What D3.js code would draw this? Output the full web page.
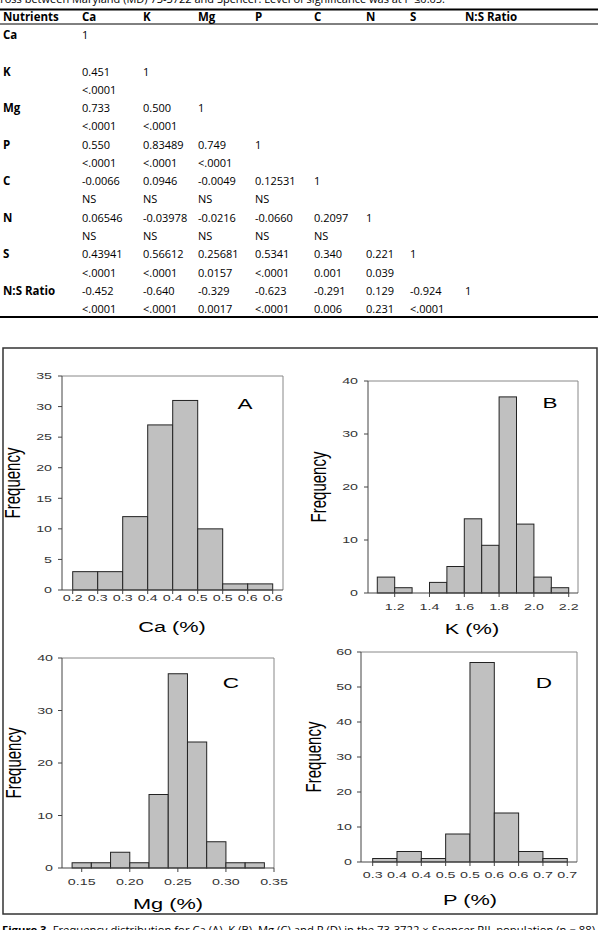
<!DOCTYPE html>
<html>
<head>
<meta charset="utf-8">
<script src="https://cdn.jsdelivr.net/npm/d3@7"></script>
<style>
  body { margin: 0; background: #fff; }
  svg { display: block; }
</style>
</head>
<body>
<svg id="page" width="600" height="930"></svg>
<script>
// TABLE DATA
const tableCols = ["Nutrients", "Ca", "K", "Mg", "P", "C", "N", "S", "N:S Ratio"];
const tableRows = ["Ca", "K", "Mg", "P", "C", "N", "S", "N:S Ratio"];
const corrValues = [
    ["1"],
    ["0.451", "1"],
    ["0.733", "0.500", "1"],
    ["0.550", "0.83489", "0.749", "1"],
    ["-0.0066", "0.0946", "-0.0049", "0.12531", "1"],
    ["0.06546", "-0.03978", "-0.0216", "-0.0660", "0.2097", "1"],
    ["0.43941", "0.56612", "0.25681", "0.5341", "0.340", "0.221", "1"],
    ["-0.452", "-0.640", "-0.329", "-0.623", "-0.291", "0.129", "-0.924", "1"]
];
const pValues = [
    [],
    ["<.0001"],
    ["<.0001", "<.0001"],
    ["<.0001", "<.0001", "<.0001"],
    ["NS", "NS", "NS", "NS"],
    ["NS", "NS", "NS", "NS", "NS"],
    ["<.0001", "<.0001", "0.0157", "<.0001", "0.001", "0.039"],
    ["<.0001", "<.0001", "0.0017", "<.0001", "0.006", "0.231", "<.0001"]
];

// HISTOGRAM DATA
const caEdges = [0.20, 0.25, 0.30, 0.35, 0.40, 0.45, 0.50, 0.55, 0.60];
const caCounts = [3, 3, 12, 27, 31, 10, 1, 1];
const caTicks = ["0.2", "0.3", "0.3", "0.4", "0.4", "0.5", "0.5", "0.6", "0.6"];

const kEdges = [1.1, 1.2, 1.3, 1.4, 1.5, 1.6, 1.7, 1.8, 1.9, 2.0, 2.1, 2.2];
const kCounts = [3, 1, 0, 2, 5, 14, 9, 37, 13, 3, 1];
const kTicks = [1.2, 1.4, 1.6, 1.8, 2.0, 2.2];

const mgEdges = [0.14, 0.16, 0.18, 0.20, 0.22, 0.24, 0.26, 0.28, 0.30, 0.32, 0.34];
const mgCounts = [1, 1, 3, 1, 14, 37, 24, 5, 1, 1];
const mgTicks = [0.15, 0.20, 0.25, 0.30, 0.35];

const pEdges = [0.30, 0.35, 0.40, 0.45, 0.50, 0.55, 0.60, 0.65, 0.70];
const pCounts = [1, 3, 1, 8, 57, 14, 3, 1];
const pTicks = ["0.3", "0.4", "0.4", "0.5", "0.5", "0.6", "0.6", "0.7", "0.7"];

const svg = d3.select("#page");

// stretched text helper (the figure image is stretched sideways)
function stext(parent, x, y, str, sx, opts) {
    const t = parent.append("text")
        .attr("transform", `translate(${x},${y}) scale(${sx},1)` + (opts.rotate ? " rotate(-90)" : ""))
        .attr("text-anchor", opts.anchor || "middle")
        .attr("font-family", "'Liberation Sans', Arial, sans-serif")
        .attr("font-size", opts.size)
        .attr("fill", opts.fill || "#000")
        .text(str);
    if (opts.dy) t.attr("dy", opts.dy);
    return t;
}

// ---------- TABLE ----------
const tbl = svg.append("g")
    .attr("font-family", "'Open Sans', sans-serif")
    .attr("font-size", 11)
    .attr("fill", "#000");

tbl.append("text")
    .attr("x", -5).attr("y", 3)
    .attr("font-size", 11)
    .attr("textLength", 450)
    .attr("lengthAdjust", "spacingAndGlyphs")
    .text("cross between Maryland (MD) 73-3722 and Spencer. Level of significance was at P \u22640.05.");

const colX = [3, 82, 143, 198, 255, 314, 366, 410, 465];
const rowY0 = 35, rowStep = 18.27;

tbl.append("line").attr("x1", 0).attr("x2", 598).attr("y1", 9.5).attr("y2", 9.5)
    .attr("stroke", "#000").attr("stroke-width", 2);
tbl.append("line").attr("x1", 0).attr("x2", 598).attr("y1", 24).attr("y2", 24)
    .attr("stroke", "#000").attr("stroke-width", 1);
tbl.append("line").attr("x1", 0).attr("x2", 598).attr("y1", 317).attr("y2", 317)
    .attr("stroke", "#000").attr("stroke-width", 2);

tbl.selectAll("text.head").data(tableCols)
    .join("text")
    .attr("class", "head")
    .attr("x", (d, i) => colX[i])
    .attr("y", 21)
    .attr("font-size", 11.5)
    .attr("font-weight", "bold")
    .text(d => d);

tableRows.forEach((name, r) => {
    const y = rowY0 + 2 * r * rowStep + 4;
    tbl.append("text").attr("x", colX[0]).attr("y", y)
        .attr("font-size", 11.5)
        .attr("font-weight", "bold").text(name);
    corrValues[r].forEach((v, c) => {
        tbl.append("text").attr("x", colX[c + 1]).attr("y", y).text(v);
    });
    pValues[r].forEach((v, c) => {
        tbl.append("text").attr("x", colX[c + 1]).attr("y", y + rowStep).text(v);
    });
});

// ---------- FIGURE ----------
svg.append("rect")
    .attr("x", 3).attr("y", 348).attr("width", 594).attr("height", 566)
    .attr("fill", "none").attr("stroke", "#333").attr("stroke-width", 1.5);

const panels = [
    { edges: caEdges, counts: caCounts, ticks: caEdges, tickLabels: caTicks,
      xd: [0.1786, 0.6206], xr: [62, 283], yMax: 35, yStep: 5, yr: [590, 376],
      letter: "A", lx: 245, ly: 409, title: "Ca (%)", tx: 172, ty: 632,
      freqX: 20, tickDy: 11, yLabR: 52 },
    { edges: kEdges, counts: kCounts, ticks: kTicks, tickLabels: kTicks.map(d => d.toFixed(1)),
      xd: [1.0466, 2.2534], xr: [368, 578], yMax: 40, yStep: 10, yr: [593, 381],
      letter: "B", lx: 550, ly: 408, title: "K (%)", tx: 472, ty: 634,
      freqX: 326, tickDy: 17, yLabR: 358 },
    { edges: mgEdges, counts: mgCounts, ticks: mgTicks, tickLabels: mgTicks.map(d => d.toFixed(2)),
      xd: [0.1295, 0.35], xr: [62, 274], yMax: 40, yStep: 10, yr: [868, 658],
      letter: "C", lx: 231, ly: 688, title: "Mg (%)", tx: 168, ty: 909,
      freqX: 21, tickDy: 17, yLabR: 53 },
    { edges: pEdges, counts: pCounts, ticks: pEdges, tickLabels: pTicks,
      xd: [0.276, 0.72], xr: [361, 577], yMax: 60, yStep: 10, yr: [862, 652],
      letter: "D", lx: 544, ly: 688, title: "P (%)", tx: 470, ty: 905,
      freqX: 321, tickDy: 16, yLabR: 352 }
];

panels.forEach(p => {
    const g = svg.append("g");
    const x = d3.scaleLinear().domain(p.xd).range(p.xr);
    const y = d3.scaleLinear().domain([0, p.yMax]).range(p.yr);
    const bins = p.counts.map((c, i) => ({ x0: p.edges[i], x1: p.edges[i + 1], n: c }));

    // frame (top + right)
    g.append("path")
        .attr("d", `M${p.xr[0]},${p.yr[1]}H${p.xr[1]}V${p.yr[0]}`)
        .attr("fill", "none").attr("stroke", "#888").attr("stroke-width", 1);

    // bars
    g.selectAll("rect").data(bins.filter(b => b.n > 0))
        .join("rect")
        .attr("x", d => x(d.x0))
        .attr("y", d => y(d.n))
        .attr("width", d => x(d.x1) - x(d.x0))
        .attr("height", d => y(0) - y(d.n))
        .attr("fill", "#c0c0c0")
        .attr("stroke", "#222")
        .attr("stroke-width", 1);

    // axes
    g.append("line").attr("x1", p.xr[0]).attr("x2", p.xr[0]).attr("y1", p.yr[0]).attr("y2", p.yr[1])
        .attr("stroke", "#444");
    g.append("line").attr("x1", p.xr[0]).attr("x2", p.xr[1]).attr("y1", p.yr[0]).attr("y2", p.yr[0])
        .attr("stroke", "#444");

    const yTicks = d3.range(0, p.yMax + 1, p.yStep);
    yTicks.forEach(t => {
        g.append("line").attr("x1", p.xr[0] - 4).attr("x2", p.xr[0])
            .attr("y1", y(t)).attr("y2", y(t)).attr("stroke", "#444");
        stext(g, p.yLabR, y(t), t, 1.5, { size: 9.5, anchor: "end", fill: "#333", dy: "0.35em" });
    });

    p.ticks.forEach((t, i) => {
        g.append("line").attr("x1", x(t)).attr("x2", x(t))
            .attr("y1", p.yr[0]).attr("y2", p.yr[0] + 4).attr("stroke", "#444");
        stext(g, x(t), p.yr[0] + p.tickDy, p.tickLabels[i], 1.5, { size: 9.5, fill: "#333" });
    });

    stext(g, p.lx, p.ly, p.letter, 1.5, { size: 15 });
    stext(g, p.tx, p.ty, p.title, 1.45, { size: 15 });
    stext(g, p.freqX, (p.yr[0] + p.yr[1]) / 2, "Frequency", 1.45, { size: 15, rotate: true });
});

// caption under the figure (cut off by the page edge)
svg.append("text")
    .attr("x", 2).attr("y", 934)
    .attr("font-family", "'Open Sans', sans-serif")
    .attr("font-size", 10.5)
    .attr("textLength", 596)
    .attr("lengthAdjust", "spacingAndGlyphs")
    .html("<tspan font-weight='bold'>Figure 3.</tspan> Frequency distribution for Ca (A), K (B), Mg (C) and P (D) in the 73-3722 \u00d7 Spencer RIL population (n = 88).");
</script>
</body>
</html>
